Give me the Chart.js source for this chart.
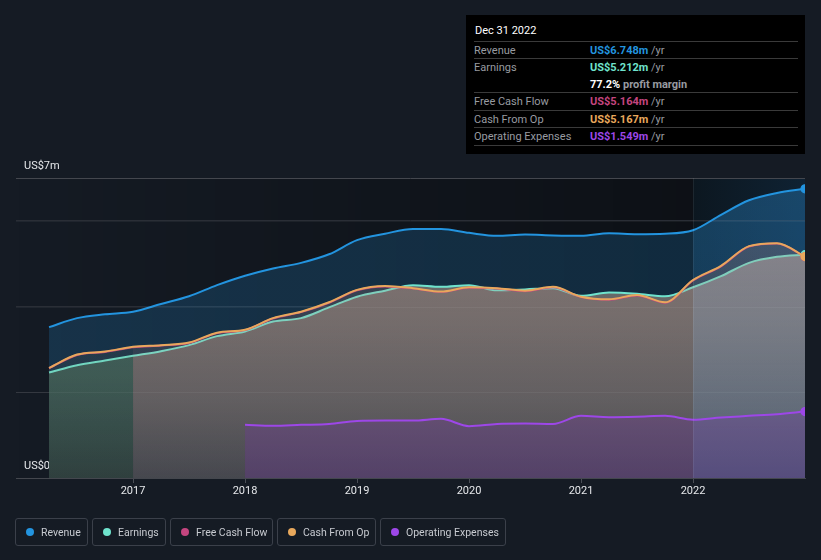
<!DOCTYPE html>
<html>
<head>
<meta charset="utf-8">
<script src="https://cdn.jsdelivr.net/npm/chart.js@4"></script>
<style>
  body { margin: 0; background: #151b24; font-family: Roboto, "Open Sans", sans-serif; }
  #wrap { position: relative; width: 821px; height: 560px; overflow: hidden; }
  #chart { position: absolute; left: 0; top: 0; }
  #tip { position: absolute; left: 466px; top: 15px; width: 339px; height: 139px; background: #000; font-size: 11px; color: #989ba1; }
  #tip .title { position: absolute; left: 9px; top: 9px; line-height: 13px; color: #fff; }
  #tip .sep { position: absolute; left: 8px; right: 7px; height: 1px; background: #3a3a3a; }
  #tip .row { position: absolute; left: 8px; right: 7px; height: 17px; line-height: 17px; white-space: nowrap; }
  #tip .val { position: absolute; left: 116px; top: 0; font-weight: bold; }
  #tip .unit { color: #989ba1; font-weight: normal; }
  #legend { position: absolute; left: 15px; top: 518px; display: flex; gap: 4px; }
  .item { box-sizing: border-box; height: 28px; border: 1px solid #3b404a; border-radius: 3px; padding: 0 0 0 10px; display: flex; align-items: center; color: #c7cad0; font-size: 10.5px; white-space: nowrap; }
  .dot { flex: none; width: 8px; height: 8px; border-radius: 50%; margin-right: 7px; }
</style>
</head>
<body>
<div id="wrap">
  <canvas id="chart" width="821" height="560"></canvas>
  <div id="tip"></div>
  <div id="legend"></div>
</div>
<script>
// quarter ends as decimal years (2016.25 = Mar 31 2016 ... 2023 = Dec 31 2022)
const quarters = [2016.25, 2016.5, 2016.75, 2017, 2017.25, 2017.5, 2017.75, 2018, 2018.25, 2018.5, 2018.75,
  2019, 2019.25, 2019.5, 2019.75, 2020, 2020.25, 2020.5, 2020.75, 2021, 2021.25, 2021.5, 2021.75,
  2022, 2022.25, 2022.5, 2022.75, 2023];

// values in US$ millions
const revenue = [3.52, 3.73, 3.82, 3.88, 4.06, 4.24, 4.50, 4.72, 4.89, 5.02, 5.22, 5.55, 5.70, 5.81, 5.81,
  5.72, 5.65, 5.68, 5.66, 5.65, 5.71, 5.69, 5.70, 5.78, 6.14, 6.48, 6.65, 6.748];
const earnings = [2.46, 2.63, 2.74, 2.85, 2.96, 3.10, 3.31, 3.42, 3.65, 3.73, 3.98, 4.23, 4.37, 4.50, 4.46,
  4.50, 4.38, 4.40, 4.43, 4.25, 4.33, 4.30, 4.24, 4.45, 4.71, 5.02, 5.16, 5.212];
const freeCashFlow = [2.56, 2.87, 2.94, 3.05, 3.09, 3.15, 3.38, 3.45, 3.72, 3.87, 4.09, 4.38, 4.47, 4.42, 4.34,
  4.44, 4.42, 4.36, 4.45, 4.22, 4.16, 4.26, 4.09, 4.61, 4.94, 5.40, 5.47, 5.164];
const cashFromOp = [2.57, 2.88, 2.95, 3.06, 3.10, 3.16, 3.39, 3.46, 3.73, 3.88, 4.10, 4.39, 4.48, 4.43, 4.35,
  4.45, 4.43, 4.37, 4.46, 4.23, 4.17, 4.27, 4.10, 4.62, 4.95, 5.41, 5.48, 5.167];
const operatingExpenses = [null, null, null, null, null, null, null, 1.24, 1.22, 1.24, 1.26, 1.33, 1.34, 1.34, 1.38,
  1.21, 1.26, 1.27, 1.26, 1.45, 1.42, 1.43, 1.45, 1.36, 1.41, 1.45, 1.49, 1.549];

const yearTicks = [2017, 2018, 2019, 2020, 2021, 2022];
const yTickValues = [0, 2, 4, 6, 7];
const yTickLabels = ['US$0', '', '', '', 'US$7m'];

const seriesNames = ['Revenue', 'Earnings', 'Free Cash Flow', 'Cash From Op', 'Operating Expenses'];
const seriesColors = ['#2394df', '#6fe3cd', '#c4457f', '#e8a85c', '#9d47e8'];
const legendWidths = [73, 74, 103, 99, 126];

// fills change look at the start of 2017 and in the highlighted last year
const zoneStarts = [2017, 2022];

// ---------- fill helpers ----------
const patternCache = {};
function zoneFill(key, zones) {
  return function (context) {
    const chart = context.chart;
    const a = chart.chartArea;
    if (!a) return 'rgba(0,0,0,0)';
    const id = key + ':' + chart.width + 'x' + chart.height + ':' + a.left;
    if (patternCache[id]) return patternCache[id];
    const c = document.createElement('canvas');
    c.width = chart.width;
    c.height = chart.height;
    const g = c.getContext('2d');
    const xs = [0].concat(zoneStarts.map(v => chart.scales.x.getPixelForValue(v)), [c.width]);
    zones.forEach(function (stops, i) {
      const grad = g.createLinearGradient(0, a.top, 0, a.bottom);
      stops.forEach(s => grad.addColorStop(s[0], s[1]));
      g.fillStyle = grad;
      g.fillRect(xs[i], 0, xs[i + 1] - xs[i], c.height);
    });
    patternCache[id] = chart.ctx.createPattern(c, 'no-repeat');
    return patternCache[id];
  };
}

const revenueFill = zoneFill('rev', [
  [[0, 'rgba(35,148,223,0.2)'], [1, 'rgba(35,148,223,0.2)']],
  [[0, 'rgba(35,148,223,0.2)'], [1, 'rgba(35,148,223,0.2)']],
  [[0, 'rgba(45,150,225,0.32)'], [1, 'rgba(45,150,225,0.26)']]
]);
const earningsFill = zoneFill('earn', [
  [[0, 'rgb(62,104,96)'], [0.66, 'rgb(53,86,82)'], [1, 'rgb(40,59,59)']],
  [[0, 'rgb(118,116,114)'], [0.47, 'rgb(100,102,102)'], [0.74, 'rgb(84,88,91)'], [1, 'rgb(60,66,74)']],
  [[0, 'rgb(124,136,146)'], [0.47, 'rgb(106,122,134)'], [0.74, 'rgb(88,106,122)'], [1, 'rgb(64,84,106)']]
]);
const cashFill = zoneFill('fcf', [
  [[0, 'rgba(130,120,100,0.2)'], [1, 'rgba(130,120,100,0.08)']],
  [[0, 'rgba(185,135,130,0.3)'], [1, 'rgba(185,135,130,0.08)']],
  [[0, 'rgba(185,135,130,0.3)'], [1, 'rgba(185,135,130,0.08)']]
]);

function pts(values) {
  return quarters.map((q, i) => ({ x: q, y: values[i] }));
}
function lastDot(c) {
  return c.dataIndex === c.dataset.data.length - 1 ? 4 : 0;
}
function series(i, values, fill, bg, order) {
  return {
    label: seriesNames[i],
    data: pts(values),
    borderColor: seriesColors[i],
    backgroundColor: bg,
    pointBackgroundColor: seriesColors[i],
    fill: fill,
    order: order
  };
}

// ---------- background plugin ----------
const backdrop = {
  id: 'backdrop',
  beforeDraw(chart) {
    const { ctx, chartArea: a, scales: { x } } = chart;
    const x22 = x.getPixelForValue(2022);
    ctx.save();
    let g = ctx.createLinearGradient(a.left, 0, x22, 0);
    g.addColorStop(0, 'rgba(0,0,0,0)');
    g.addColorStop(1, 'rgba(0,0,0,0.38)');
    ctx.fillStyle = g;
    ctx.fillRect(a.left, a.top, x22 - a.left, a.bottom - a.top);
    g = ctx.createLinearGradient(x22, 0, a.right, 0);
    g.addColorStop(0, '#0c1720');
    g.addColorStop(1, '#0f2233');
    ctx.fillStyle = g;
    ctx.fillRect(x22, a.top, a.right - x22, a.bottom - a.top);
    ctx.restore();
  },
  // faint grid lines that show through the solid fills
  afterDatasetDraw(chart, args) {
    if (args.index !== 2) return;
    const { ctx, chartArea: a, scales: { y } } = chart;
    ctx.save();
    ctx.strokeStyle = 'rgba(255,255,255,0.05)';
    ctx.lineWidth = 1;
    yTickValues.slice(1, -1).forEach(function (v) {
      const py = Math.round(y.getPixelForValue(v)) + 0.5;
      ctx.beginPath();
      ctx.moveTo(a.left, py);
      ctx.lineTo(a.right, py);
      ctx.stroke();
    });
    ctx.restore();
  },
  afterDatasetsDraw(chart) {
    const { ctx, chartArea: a, scales: { x } } = chart;
    const x22 = Math.round(x.getPixelForValue(2022)) + 0.5;
    ctx.save();
    ctx.strokeStyle = 'rgba(255,255,255,0.07)';
    ctx.lineWidth = 1;
    ctx.beginPath();
    ctx.moveTo(x22, a.top);
    ctx.lineTo(x22, a.bottom);
    ctx.stroke();
    ctx.restore();
  }
};

Chart.defaults.font.family = 'Roboto, "Open Sans", sans-serif';

new Chart(document.getElementById('chart'), {
  type: 'line',
  data: {
    datasets: [
      series(0, revenue, 'origin', revenueFill, 5),
      series(1, earnings, 'origin', earningsFill, 4),
      series(2, freeCashFlow, 'origin', cashFill, 3),
      series(3, cashFromOp, false, 'rgba(0,0,0,0)', 2),
      series(4, operatingExpenses, 'origin', 'rgba(120,50,170,0.28)', 1)
    ]
  },
  options: {
    responsive: false,
    animation: false,
    events: [],
    layout: { padding: { left: 16, right: 16, top: 178, bottom: 58 } },
    elements: {
      line: { borderWidth: 2, cubicInterpolationMode: 'monotone' },
      point: { radius: lastDot, hoverRadius: 0, borderColor: '#ffffff', borderWidth: 1.2 }
    },
    plugins: { legend: { display: false }, tooltip: { enabled: false } },
    scales: {
      x: {
        type: 'linear',
        min: 2015.955,
        max: 2023,
        afterBuildTicks: ax => { ax.ticks = yearTicks.map(v => ({ value: v })); },
        afterFit: ax => { ax.height = 24; },
        ticks: { color: '#e6e8eb', font: { size: 11 }, padding: 2, maxRotation: 0, callback: v => String(v) },
        grid: { drawOnChartArea: false, tickLength: 5, color: '#4a4e56' },
        border: { color: '#44474e' }
      },
      y: {
        min: 0,
        max: 7,
        afterBuildTicks: ax => { ax.ticks = yTickValues.map(v => ({ value: v })); },
        afterFit: ax => { ax.width = 0; },
        ticks: {
          mirror: true,
          padding: 8,
          labelOffset: -12,
          color: '#e6e8eb',
          font: { size: 11 },
          callback: v => yTickLabels[yTickValues.indexOf(v)]
        },
        grid: {
          drawTicks: false,
          color: c => (c.tick && (c.tick.value === 7 || c.tick.value === 0)) ? '#44474e' : '#2a2e36'
        },
        border: { display: false }
      }
    }
  },
  plugins: [backdrop]
});

// ---------- tooltip box (Dec 31 2022) ----------
const last = quarters.length - 1;
const tip = document.getElementById('tip');
const fmt = v => 'US$' + v.toFixed(3) + 'm';
let html = '<div class="title">Dec 31 2022</div>';
[26, 43, 77, 95, 112, 130].forEach(t => { html += '<div class="sep" style="top:' + t + 'px"></div>'; });
const rows = [
  [26, 0, revenue[last]],
  [43, 1, earnings[last]],
  [77, 2, freeCashFlow[last]],
  [95, 3, cashFromOp[last]],
  [112, 4, operatingExpenses[last]]
];
rows.forEach(function (r) {
  html += '<div class="row" style="top:' + (r[0] + 1) + 'px">' + seriesNames[r[1]] +
    '<span class="val" style="color:' + seriesColors[r[1]] + '">' + fmt(r[2]) +
    ' <span class="unit">/yr</span></span></div>';
});
const margin = (earnings[last] / revenue[last] * 100).toFixed(1);
html += '<div class="row" style="top:61px"><span class="val" style="color:#fff">' + margin +
  '% <span style="color:#989ba1">profit margin</span></span></div>';
tip.innerHTML = html;

// ---------- legend ----------
const legend = document.getElementById('legend');
seriesNames.forEach(function (name, i) {
  const el = document.createElement('div');
  el.className = 'item';
  el.style.width = legendWidths[i] + 'px';
  el.innerHTML = '<span class="dot" style="background:' + seriesColors[i] + '"></span>' + name;
  legend.appendChild(el);
});
</script>
</body>
</html>
